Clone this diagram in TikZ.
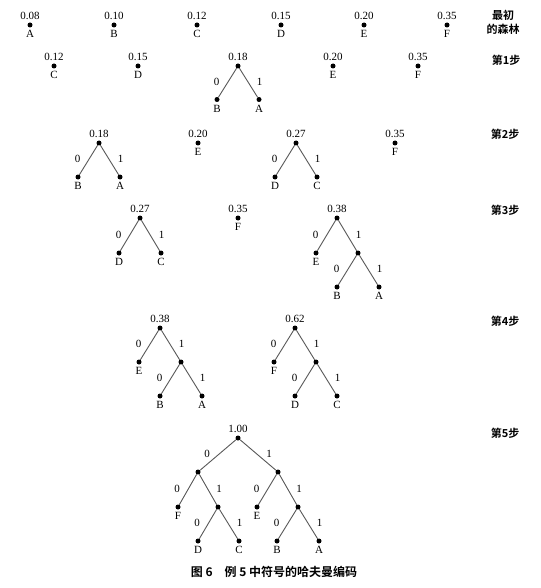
\documentclass[tikz,border=0pt]{standalone}
\usepackage{fontspec}
\setmainfont{Liberation Serif}
\newfontfamily\cjk{Noto Sans CJK SC}[BoldFont={Noto Sans CJK SC Bold}]

\begin{document}
\begin{tikzpicture}[
        x=1pt, y=-1pt,
        font=\fontsize{11}{12}\selectfont,
        dot/.style={circle, fill, inner sep=0pt, minimum size=5pt},
        every label/.style={inner sep=1.5pt},
        label distance=1pt,
        edge/.style={draw=black!65, line width=0.9pt},
        zero/.style={midway, xshift=-11pt, yshift=1pt},
        one/.style={midway, xshift=11pt, yshift=1pt},
        stepname/.style={font=\cjk\bfseries\fontsize{11}{14}\selectfont, align=center}
    ]
    \path[use as bounding box, fill=white] (0,0) rectangle (540,588);

    % initial forest
    \foreach \nm/\w/\x in {A/0.08/30, B/0.10/114, C/0.12/197, D/0.15/281, E/0.20/364, F/0.35/447}
        \node[dot, label=above:\w, label=below:\nm] (f\nm) at (\x,25) {};
    \node[stepname] (step0) at (503,22) {最初\\的森林};

    % step 1
    \node[dot, label=above:0.12, label=below:C] (a1C) at (54,66) {};
    \node[dot, label=above:0.15, label=below:D] (a1D) at (138,66) {};
    \node[dot, label=above:0.18] (a1r) at (238,66) {};
    \node[dot, label=below:B] (a1B) at (217,99.5) {};
    \node[dot, label=below:A] (a1A) at (259,99.5) {};
    \node[dot, label=above:0.20, label=below:E] (a1E) at (333,66) {};
    \node[dot, label=above:0.35, label=below:F] (a1F) at (418,66) {};
    \draw[edge] (a1r) -- node[zero] {0} (a1B);
    \draw[edge] (a1r) -- node[one] {1} (a1A);
    \node[stepname] (step1) at (506,60) {第1步};

    % step 2
    \node[dot, label=above:0.18] (a2r) at (99,143) {};
    \node[dot, label=below:B] (a2B) at (78,177) {};
    \node[dot, label=below:A] (a2A) at (120,177) {};
    \node[dot, label=above:0.20, label=below:E] (a2E) at (198,143) {};
    \node[dot, label=above:0.27] (a2s) at (296,143) {};
    \node[dot, label=below:D] (a2D) at (275,177) {};
    \node[dot, label=below:C] (a2C) at (317,177) {};
    \node[dot, label=above:0.35, label=below:F] (a2F) at (395,143) {};
    \draw[edge] (a2r) -- node[zero] {0} (a2B);
    \draw[edge] (a2r) -- node[one] {1} (a2A);
    \draw[edge] (a2s) -- node[zero] {0} (a2D);
    \draw[edge] (a2s) -- node[one] {1} (a2C);
    \node[stepname] (step2) at (505,134) {第2步};

    % step 3
    \node[dot, label=above:0.27] (a3r) at (140,218) {};
    \node[dot, label=below:D] (a3D) at (119,253) {};
    \node[dot, label=below:C] (a3C) at (161,253) {};
    \node[dot, label=above:0.35, label=below:F] (a3F) at (238,218) {};
    \node[dot, label=above:0.38] (a3s) at (337,218) {};
    \node[dot, label=below:E] (a3E) at (316,253) {};
    \node[dot] (a3n) at (358,253) {};
    \node[dot, label=below:B] (a3B) at (337,287) {};
    \node[dot, label=below:A] (a3A) at (379,287) {};
    \draw[edge] (a3r) -- node[zero] {0} (a3D);
    \draw[edge] (a3r) -- node[one] {1} (a3C);
    \draw[edge] (a3s) -- node[zero] {0} (a3E);
    \draw[edge] (a3s) -- node[one] {1} (a3n);
    \draw[edge] (a3n) -- node[zero] {0} (a3B);
    \draw[edge] (a3n) -- node[one] {1} (a3A);
    \node[stepname] (step3) at (505,210) {第3步};

    % step 4
    \node[dot, label=above:0.38] (a4r) at (160,328) {};
    \node[dot, label=below:E] (a4E) at (139,362) {};
    \node[dot] (a4n) at (181,362) {};
    \node[dot, label=below:B] (a4B) at (160,396) {};
    \node[dot, label=below:A] (a4A) at (202,396) {};
    \node[dot, label=above:0.62] (a4s) at (295,328) {};
    \node[dot, label=below:F] (a4F) at (274,362) {};
    \node[dot] (a4m) at (316,362) {};
    \node[dot, label=below:D] (a4D) at (295,396) {};
    \node[dot, label=below:C] (a4C) at (337,396) {};
    \draw[edge] (a4r) -- node[zero] {0} (a4E);
    \draw[edge] (a4r) -- node[one] {1} (a4n);
    \draw[edge] (a4n) -- node[zero] {0} (a4B);
    \draw[edge] (a4n) -- node[one] {1} (a4A);
    \draw[edge] (a4s) -- node[zero] {0} (a4F);
    \draw[edge] (a4s) -- node[one] {1} (a4m);
    \draw[edge] (a4m) -- node[zero] {0} (a4D);
    \draw[edge] (a4m) -- node[one] {1} (a4C);
    \node[stepname] (step4) at (505,321) {第4步};

    % step 5
    \node[dot, label=above:1.00] (a5r) at (238,438) {};
    \node[dot] (a5L) at (198,472) {};
    \node[dot] (a5R) at (278,472) {};
    \node[dot, label=below:F] (a5F) at (178,507) {};
    \node[dot] (a5n) at (218,507) {};
    \node[dot, label=below:E] (a5E) at (257,507) {};
    \node[dot] (a5m) at (298,507) {};
    \node[dot, label=below:D] (a5D) at (198,541) {};
    \node[dot, label=below:C] (a5C) at (239,541) {};
    \node[dot, label=below:B] (a5B) at (277,541) {};
    \node[dot, label=below:A] (a5A) at (319,541) {};
    \draw[edge] (a5r) -- node[zero] {0} (a5L);
    \draw[edge] (a5r) -- node[one] {1} (a5R);
    \draw[edge] (a5L) -- node[zero] {0} (a5F);
    \draw[edge] (a5L) -- node[one] {1} (a5n);
    \draw[edge] (a5n) -- node[zero] {0} (a5D);
    \draw[edge] (a5n) -- node[one] {1} (a5C);
    \draw[edge] (a5R) -- node[zero] {0} (a5E);
    \draw[edge] (a5R) -- node[one] {1} (a5m);
    \draw[edge] (a5m) -- node[zero] {0} (a5B);
    \draw[edge] (a5m) -- node[one] {1} (a5A);
    \node[stepname] (step5) at (505,433) {第5步};

    \node[stepname, font=\cjk\bfseries\fontsize{12}{14}\selectfont] (caption) at (274,572) {图 6\quad 例 5 中符号的哈夫曼编码};
\end{tikzpicture}
\end{document}
